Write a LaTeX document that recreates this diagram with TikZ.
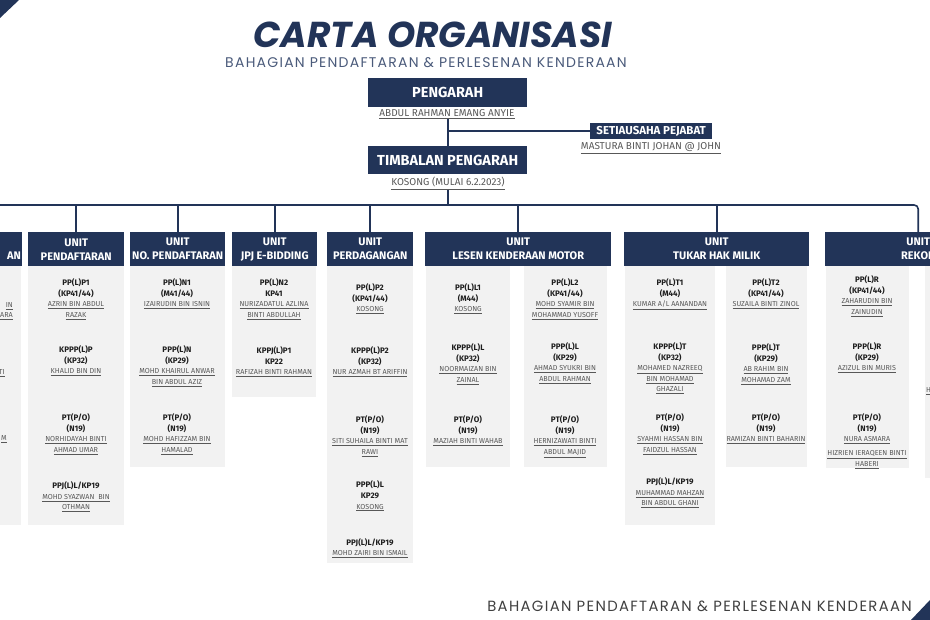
\documentclass[tikz,border=0pt]{standalone}
\usepackage{fontspec}
\setmainfont{Fira Sans}
\newfontfamily\popfont{Poppins}
\newfontfamily\popspaced[LetterSpace=9]{Poppins}
\definecolor{navy}{HTML}{223458}
\definecolor{bodygray}{HTML}{F2F2F2}
\definecolor{namegray}{HTML}{585858}
\definecolor{codeblack}{HTML}{1E1E1E}
\definecolor{subblue}{HTML}{4A5A7A}
\definecolor{footgray}{HTML}{404040}
\newcommand\cd[1]{{\fontsize{8}{9}\selectfont\bfseries\color{codeblack}#1}}
\newcommand\nm[1]{{\fontsize{7.2}{8}\selectfont\color{namegray}\underline{#1}}}
\newcommand\ent[4]{\foreach [count=\i] \itm in {#4} {\node[anchor=base,inner sep=0pt] (#1-\i) at (#2,{#3+3+(\i-1)*10.5}) {\itm};}}
\tikzset{
  hdr/.style={fill=navy, text=white, font=\fontsize{11}{14}\selectfont\bfseries, align=center, inner sep=0pt, anchor=north west, minimum height=34pt},
  bighdr/.style={fill=navy, text=white, font=\fontsize{14.5}{16}\selectfont\bfseries, inner sep=0pt, anchor=north west},
  bodybox/.style={fill=bodygray, inner sep=0pt, anchor=north west},
  conn/.style={draw=navy, line width=1.6pt},
  bigname/.style={font=\fontsize{10}{12}\selectfont, text=namegray, anchor=base, inner sep=0pt}
}
\begin{document}
\begin{tikzpicture}[x=1pt,y=-1pt]
\useasboundingbox (0,0) rectangle (930,620);
\clip (0,0) rectangle (930,620);
% corner triangles
\fill[navy] (0,0) -- (19,0) -- (0,18) -- cycle;
\fill[navy] (930,600) -- (930,620) -- (911,620) -- cycle;
% titles
\node[font=\popfont\bfseries\itshape\fontsize{36}{40}\selectfont, text=navy, anchor=base, inner sep=0pt, text depth=0pt] (title) at (433,48) {CARTA ORGANISASI};
\node[font=\popspaced\fontsize{14}{16}\selectfont, text=subblue, anchor=base, inner sep=0pt] (sub) at (426,68) {BAHAGIAN PENDAFTARAN \& PERLESENAN KENDERAAN};
\node[font=\popspaced\fontsize{14.8}{16}\selectfont, text=footgray, anchor=base east, inner sep=0pt] (foot) at (912,611) {BAHAGIAN PENDAFTARAN \& PERLESENAN KENDERAAN};
% top
\node[bighdr, minimum width=159pt, minimum height=29pt] (peng) at (368,78) {PENGARAH};
\node[bigname] (pengName) at (447,117) {\underline{ABDUL RAHMAN EMANG ANYIE}};
\node[bighdr, minimum width=159pt, minimum height=28pt] (timb) at (368,146) {TIMBALAN PENGARAH};
\node[bigname] (timbName) at (448,186) {\underline{KOSONG (MULAI 6.2.2023)}};
\node[bighdr, font=\fontsize{11.5}{13}\selectfont\bfseries, minimum width=122pt, minimum height=16pt] (sec) at (590,123) {SETIAUSAHA PEJABAT};
\node[bigname] (secName) at (651,150) {\underline{MASTURA BINTI JOHAN @ JOHN}};
% unit headers
\node[hdr, minimum width=40pt] (hLeft) at (-18,232) {};
\node[font=\fontsize{11}{14}\selectfont\bfseries, text=white, anchor=base east, inner sep=0pt] (hLeftTxt) at (21,260) {AN};
\node[hdr, minimum width=96pt] (hPend) at (28,232) {UNIT\\PENDAFTARAN};
\node[hdr, minimum width=95pt] (hNo) at (130,232) {UNIT\\NO. PENDAFTARAN};
\node[hdr, minimum width=85pt] (hJpj) at (232,232) {UNIT\\JPJ E-BIDDING};
\node[hdr, minimum width=86pt] (hPerd) at (327,232) {UNIT\\PERDAGANGAN};
\node[hdr, minimum width=186pt] (hLkm) at (425,232) {UNIT\\LESEN KENDERAAN MOTOR};
\node[hdr, minimum width=185pt] (hThm) at (624,232) {UNIT\\TUKAR HAK MILIK};
\node[hdr, minimum width=186pt] (hRek) at (825,232) {UNIT\\REKOD};
% bodies
\node[bodybox, minimum width=39pt, minimum height=259pt] (bLeft) at (-18,266) {};
\node[bodybox, minimum width=96pt, minimum height=259pt] (bPend) at (28,266) {};
\node[bodybox, minimum width=95pt, minimum height=201pt] (bNo) at (130,266) {};
\node[bodybox, minimum width=84pt, minimum height=131pt] (bJpj) at (232,266) {};
\node[bodybox, minimum width=86pt, minimum height=297pt] (bPerd) at (327,266) {};
\node[bodybox, minimum width=84pt, minimum height=201pt] (bLkm1) at (426,266) {};
\node[bodybox, minimum width=83pt, minimum height=201pt] (bLkm2) at (524,266) {};
\node[bodybox, minimum width=90pt, minimum height=259pt] (bThm1) at (625,266) {};
\node[bodybox, minimum width=81pt, minimum height=201pt] (bThm2) at (726,266) {};
\node[bodybox, minimum width=83pt, minimum height=202pt] (bRek1) at (826,266) {};
\node[bodybox, minimum width=30pt, minimum height=212pt] (bRek2) at (925,266) {};
% connectors
\coordinate (busL) at (-5,205);
\draw[conn] (timb.north |- pengName.south) -- (timb.north);
\draw[conn] (sec.west) -- (sec.west -| timb.north);
\draw[conn] (timbName.south) -- (timbName.south |- busL);
\draw[conn, rounded corners=4pt] (busL) -| (hRek.north);
\foreach \h in {hPend,hNo,hJpj,hPerd,hLkm,hThm}
  \draw[conn] (\h.north) -- (\h.north |- busL);
% left partial fragments
\node[anchor=base east, inner sep=0pt] (fl1) at (13,308) {\nm{IN}};
\node[anchor=base east, inner sep=0pt] (fl2) at (13,318) {\nm{ARA}};
\node[anchor=base east, inner sep=0pt] (fl3) at (5,375) {\nm{TI}};
\node[anchor=base east, inner sep=0pt] (fl4) at (7,441) {\nm{M}};
\node[anchor=base west, inner sep=0pt] (fr1) at (926,393) {\nm{H}};
% PENDAFTARAN
\ent{pa}{76}{283}{\cd{PP(L)P1},\cd{(KP41/44)},\nm{AZRIN BIN ABDUL},\nm{RAZAK}}
\ent{pb}{76}{350}{\cd{KPPP(L)P},\cd{(KP32)},\nm{KHALID BIN DIN}}
\ent{pc}{76}{418}{\cd{PT(P/O)},\cd{(N19)},\nm{NORHIDAYAH BINTI},\nm{AHMAD UMAR}}
\ent{pd}{76}{486}{\cd{PPJ(L)L/KP19},\nm{MOHD SYAZWAN~ BIN},\nm{OTHMAN}}
% NO. PENDAFTARAN
\ent{na}{177}{283}{\cd{PP(L)N1},\cd{(M41/44)},\nm{IZAIRUDIN BIN ISNIN}}
\ent{nb}{177}{350}{\cd{PPP(L)N},\cd{(KP29)},\nm{MOHD KHAIRUL ANWAR},\nm{BIN ABDUL AZIZ}}
\ent{nc}{177}{418}{\cd{PT(P/O)},\cd{(N19)},\nm{MOHD HAFIZZAM BIN},\nm{HAMALAD}}
% JPJ
\ent{ja}{274}{283}{\cd{PP(L)N2},\cd{KP41},\nm{NURIZADATUL AZLINA},\nm{BINTI ABDULLAH}}
\ent{jb}{274}{351}{\cd{KPPJ(L)P1},\cd{KP22},\nm{RAFIZAH BINTI RAHMAN}}
% PERDAGANGAN
\ent{da}{370}{288}{\cd{PP(L)P2},\cd{(KP41/44)},\nm{KOSONG}}
\ent{db}{370}{351}{\cd{KPPP(L)P2},\cd{(KP32)},\nm{NUR AZMAH BT ARIFFIN}}
\ent{dc}{370}{420}{\cd{PT(P/O)},\cd{(N19)},\nm{SITI SUHAILA BINTI MAT},\nm{RAWI}}
\ent{dd}{370}{485}{\cd{PPP(L)L},\cd{KP29},\nm{KOSONG}}
\ent{de}{370}{542}{\cd{PPJ(L)L/KP19},\nm{MOHD ZAIRI BIN ISMAIL}}
% LKM
\ent{la}{468}{288}{\cd{PP(L)L1},\cd{(M44)},\nm{KOSONG}}
\ent{lb}{468}{348}{\cd{KPPP(L)L},\cd{(KP32)},\nm{NOORMAIZAN BIN},\nm{ZAINAL}}
\ent{lc}{468}{420}{\cd{PT(P/O)},\cd{(N19)},\nm{MAZIAH BINTI WAHAB}}
\ent{ma}{565}{283}{\cd{PP(L)L2},\cd{(KP41/44)},\nm{MOHD SYAMIR BIN},\nm{MOHAMMAD YUSOFF}}
\ent{mb}{565}{347}{\cd{PPP(L)L},\cd{(KP29)},\nm{AHMAD SYUKRI BIN},\nm{ABDUL RAHMAN}}
\ent{mc}{565}{420}{\cd{PT(P/O)},\cd{(N19)},\nm{HERNIZAWATI BINTI},\nm{ABDUL MAJID}}
% THM
\ent{ta}{670}{283}{\cd{PP(L)T1},\cd{(M44)},\nm{KUMAR A/L AANANDAN}}
\ent{tb}{670}{347}{\cd{KPPP(L)T},\cd{(KP32)},\nm{MOHAMED NAZREEQ},\nm{BIN MOHAMAD},\nm{GHAZALI}}
\ent{tc}{670}{418}{\cd{PT(P/O)},\cd{(N19)},\nm{SYAHMI HASSAN BIN},\nm{FAIDZUL HASSAN}}
\ent{td}{670}{482}{\cd{PPJ(L)L/KP19},\nm{MUHAMMAD MAHZAN},\nm{BIN ABDUL GHANI}}
\ent{ua}{766}{283}{\cd{PP(L)T2},\cd{(KP41/44)},\nm{SUZAILA BINTI ZINOL}}
\ent{ub}{766}{348}{\cd{PPP(L)T},\cd{(KP29)},\nm{AB RAHIM BIN},\nm{MOHAMAD ZAM}}
\ent{uc}{766}{418}{\cd{PT(P/O)},\cd{(N19)},\nm{RAMIZAN BINTI BAHARIN}}
% REKOD
\ent{ra}{867}{280}{\cd{PP(L)R},\cd{(KP41/44)},\nm{ZAHARUDIN BIN},\nm{ZAINUDIN}}
\ent{rb}{867}{347}{\cd{PPP(L)R},\cd{(KP29)},\nm{AZIZUL BIN MURIS}}
\ent{rc}{867}{418}{\cd{PT(P/O)},\cd{(N19)},\nm{NURA ASMARA}}
\ent{rd}{867}{453}{\nm{HIZRIEN IERAQEEN BINTI},\nm{HABERI}}
\end{tikzpicture}
\end{document}
